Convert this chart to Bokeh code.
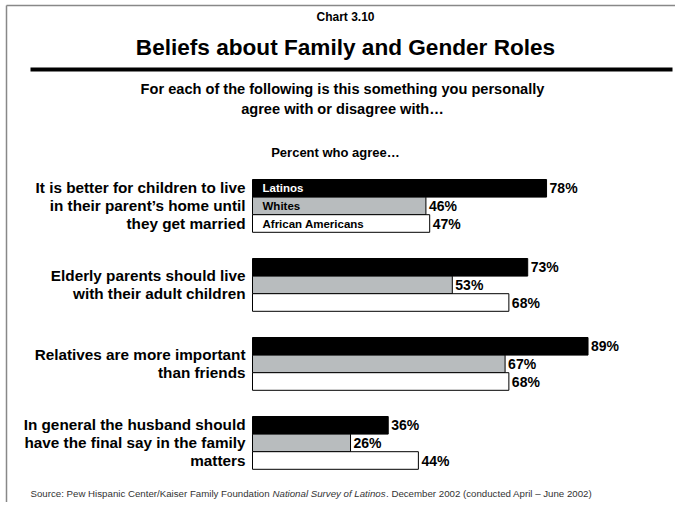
from bokeh.plotting import figure
from bokeh.models import Range1d, ColumnDataSource
from bokeh.core.properties import value
from bokeh.embed import file_html
from bokeh.resources import INLINE

# ---- data ----
questions = [
    ["It is better for children to live", "in their parent\u2019s home until", "they get married"],
    ["Elderly parents should live", "with their adult children"],
    ["Relatives are more important", "than friends"],
    ["In general the husband should", "have the final say in the family", "matters"],
]
series = ["Latinos", "Whites", "African Americans"]
latinos = [78, 73, 89, 36]
whites = [46, 53, 67, 26]
african_americans = [47, 68, 68, 44]
title_top = "Chart 3.10"
title = "Beliefs about Family and Gender Roles"
subtitle = ["For each of the following is this something you personally",
            "agree with or disagree with\u2026"]
caption = "Percent who agree\u2026"
source_parts = ["Source: Pew Hispanic Center/Kaiser Family Foundation ",
                "National Survey of Latinos",
                ". December 2002 (conducted April \u2013 June 2002)"]

# ---- layout ----
W, H = 675, 502
X0 = 252          # pixel position of 0%
PX_PER = 3.77     # pixels per percent
GROUP_TOP = 179
GROUP_STEP = 79
BAR_H = 17.6

FONT = "Liberation Sans"
fills = ["#000000", "#b8bcbe", "#ffffff"]

p = figure(width=W, height=H, output_backend="svg", toolbar_location=None,
           x_range=Range1d(-X0 / PX_PER, (W - X0) / PX_PER),
           y_range=Range1d(H, 0), x_axis_type=None, y_axis_type=None,
           min_border=0, outline_line_color=None)
p.extra_x_ranges = {"px": Range1d(0, W)}
p.grid.visible = False
p.background_fill_color = "white"
p.border_fill_color = "white"

vals = [latinos, whites, african_americans]
bx, by, bfill, ltxt = [], [], [], []
for g in range(len(questions)):
    for r in range(3):
        yc = GROUP_TOP + g * GROUP_STEP + BAR_H * (r + 0.5)
        v = vals[r][g]
        bx.append(v)
        by.append(yc)
        bfill.append(fills[r])
        ltxt.append(f"{v}%")
src = ColumnDataSource(dict(right=bx, y=by, fill=bfill, txt=ltxt))
p.hbar(y="y", left=0, right="right", height=BAR_H, fill_color="fill",
       line_color="black", line_width=1, source=src)
p.text(x="right", y="y", text="txt", source=src, x_offset=3, y_offset=0,
       text_font=value(FONT), text_font_style="bold", text_font_size="14px",
       text_baseline="middle", text_align="left", text_color="black")

# series names inside the first group of bars
sy = [GROUP_TOP + BAR_H * (r + 0.5) for r in range(3)]
p.text(x=[X0 + 10] * 3, y=sy, text=series, x_range_name="px",
       text_font=value(FONT), text_font_style="bold", text_font_size="11.5px",
       text_baseline="middle", text_align="left",
       text_color=["white", "black", "black"])

# question labels
qx, qy, qt = [], [], []
LINE = 18
for g, lines in enumerate(questions):
    center = GROUP_TOP + g * GROUP_STEP + BAR_H * 1.5
    n = len(lines)
    for i, t in enumerate(lines):
        qx.append(X0 - 7)
        qy.append(center + (i - (n - 1) / 2) * LINE)
        qt.append(t)
p.text(x=qx, y=qy, text=qt, x_range_name="px",
       text_font=value(FONT), text_font_style="bold", text_font_size="15.3px",
       text_baseline="middle", text_align="right", text_color="black")

# titles
CX = 345
p.text(x=[CX], y=[16], text=[title_top], x_range_name="px",
       text_font=value(FONT), text_font_style="bold", text_font_size="12px",
       text_baseline="middle", text_align="center")
p.text(x=[CX], y=[47], text=[title], x_range_name="px",
       text_font=value(FONT), text_font_style="bold", text_font_size="22.6px",
       text_baseline="middle", text_align="center")
p.segment(x0=[30], x1=[672], y0=[69], y1=[69], x_range_name="px",
          line_color="black", line_width=4)
p.text(x=[CX - 3, CX - 3], y=[88, 108], text=subtitle, x_range_name="px",
       text_font=value(FONT), text_font_style="bold", text_font_size="14.6px",
       text_baseline="middle", text_align="center")
p.text(x=[CX - 10], y=[152], text=[caption], x_range_name="px",
       text_font=value(FONT), text_font_style="bold", text_font_size="13px",
       text_baseline="middle", text_align="center")

# frame lines (left and top)
p.segment(x0=[6, 6], x1=[6, W], y0=[5, 5], y1=[H, 5], x_range_name="px",
          line_color="#888888", line_width=1.5)

# source
p.text(x=[30, 272, 385.5], y=[493] * 3, text=source_parts, x_range_name="px",
       text_font=value(FONT), text_font_size="9.7px",
       text_font_style=["normal", "italic", "normal"],
       text_baseline="middle", text_align="left", text_color="#333333")

open("out.html", "w").write(file_html(p, INLINE))
